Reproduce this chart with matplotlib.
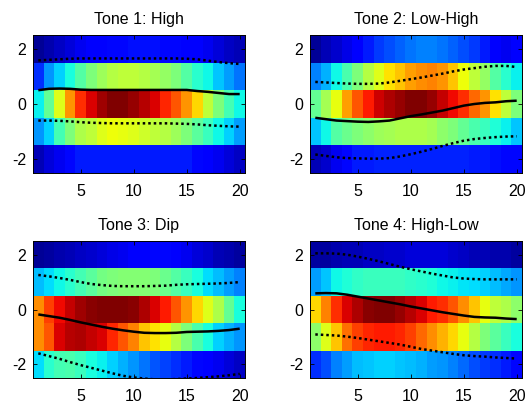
import numpy as np
import matplotlib
matplotlib.use("Agg")
import matplotlib.pyplot as plt

plt.rcParams['font.family'] = ['Liberation Sans', 'DejaVu Sans']
plt.rcParams['axes.unicode_minus'] = False

titles = ["Tone 1: High", "Tone 2: Low-High", "Tone 3: Dip", "Tone 4: High-Low"]
frames = list(range(1, 21))
bins = [-2, -1, 0, 1, 2]
xticks = [5, 10, 15, 20]
yticks = [-2, 0, 2]

# Heatmap densities (rows: y = 2, 1, 0, -1, -2; columns: frames 1..20)
tone1_density = [
    [0.02, 0.04, 0.06, 0.08, 0.10, 0.11, 0.12, 0.13, 0.13, 0.14, 0.14, 0.14, 0.13, 0.13, 0.12, 0.11, 0.10, 0.08, 0.06, 0.05],
    [0.17, 0.27, 0.33, 0.38, 0.45, 0.50, 0.54, 0.57, 0.58, 0.58, 0.57, 0.55, 0.53, 0.50, 0.45, 0.40, 0.37, 0.32, 0.28, 0.24],
    [0.36, 0.47, 0.62, 0.75, 0.86, 0.92, 0.97, 1.00, 1.00, 0.98, 0.95, 0.92, 0.87, 0.82, 0.75, 0.68, 0.58, 0.50, 0.43, 0.37],
    [0.27, 0.33, 0.43, 0.50, 0.56, 0.58, 0.62, 0.64, 0.63, 0.62, 0.60, 0.58, 0.57, 0.54, 0.50, 0.46, 0.42, 0.37, 0.33, 0.28],
    [0.05, 0.08, 0.10, 0.13, 0.15, 0.15, 0.15, 0.15, 0.15, 0.15, 0.15, 0.15, 0.15, 0.15, 0.15, 0.13, 0.12, 0.10, 0.08, 0.06],
]
tone2_density = [
    [0.02, 0.05, 0.07, 0.09, 0.12, 0.15, 0.18, 0.20, 0.22, 0.24, 0.25, 0.25, 0.24, 0.22, 0.20, 0.18, 0.15, 0.12, 0.10, 0.12],
    [0.25, 0.30, 0.37, 0.44, 0.50, 0.57, 0.62, 0.67, 0.70, 0.74, 0.76, 0.77, 0.75, 0.70, 0.64, 0.58, 0.53, 0.45, 0.40, 0.36],
    [0.47, 0.55, 0.63, 0.74, 0.82, 0.88, 0.93, 0.96, 0.98, 1.00, 1.00, 0.98, 0.94, 0.90, 0.86, 0.80, 0.75, 0.67, 0.58, 0.50],
    [0.32, 0.37, 0.45, 0.48, 0.50, 0.52, 0.54, 0.55, 0.56, 0.56, 0.56, 0.55, 0.52, 0.50, 0.47, 0.44, 0.42, 0.39, 0.36, 0.32],
    [0.05, 0.07, 0.10, 0.13, 0.15, 0.15, 0.16, 0.16, 0.16, 0.16, 0.16, 0.16, 0.16, 0.16, 0.16, 0.15, 0.15, 0.14, 0.13, 0.13],
]
tone3_density = [
    [0.02, 0.03, 0.04, 0.05, 0.06, 0.07, 0.08, 0.09, 0.10, 0.11, 0.12, 0.13, 0.13, 0.12, 0.10, 0.08, 0.07, 0.05, 0.04, 0.03],
    [0.31, 0.34, 0.37, 0.40, 0.43, 0.46, 0.49, 0.50, 0.51, 0.51, 0.51, 0.50, 0.48, 0.45, 0.42, 0.38, 0.34, 0.31, 0.28, 0.25],
    [0.76, 0.84, 0.90, 0.94, 0.97, 0.99, 1.00, 1.00, 1.00, 0.99, 0.96, 0.92, 0.88, 0.82, 0.75, 0.68, 0.62, 0.56, 0.47, 0.38],
    [0.76, 0.82, 0.92, 0.95, 0.96, 0.94, 0.92, 0.87, 0.82, 0.77, 0.70, 0.67, 0.63, 0.57, 0.50, 0.44, 0.38, 0.33, 0.30, 0.27],
    [0.34, 0.40, 0.43, 0.44, 0.42, 0.38, 0.36, 0.33, 0.30, 0.27, 0.24, 0.21, 0.19, 0.17, 0.15, 0.13, 0.12, 0.10, 0.08, 0.06],
]
tone4_density = [
    [0.03, 0.03, 0.04, 0.05, 0.05, 0.06, 0.06, 0.07, 0.07, 0.08, 0.08, 0.08, 0.08, 0.07, 0.06, 0.05, 0.05, 0.04, 0.04, 0.03],
    [0.28, 0.32, 0.37, 0.39, 0.41, 0.42, 0.42, 0.42, 0.42, 0.41, 0.40, 0.39, 0.37, 0.36, 0.35, 0.34, 0.33, 0.31, 0.29, 0.27],
    [0.68, 0.77, 0.86, 0.92, 0.96, 0.99, 1.00, 1.00, 0.98, 0.95, 0.92, 0.88, 0.86, 0.82, 0.76, 0.70, 0.63, 0.58, 0.56, 0.52],
    [0.52, 0.62, 0.70, 0.79, 0.84, 0.87, 0.88, 0.88, 0.87, 0.84, 0.80, 0.76, 0.72, 0.68, 0.63, 0.57, 0.50, 0.46, 0.42, 0.38],
    [0.17, 0.20, 0.25, 0.28, 0.31, 0.32, 0.33, 0.33, 0.32, 0.31, 0.30, 0.28, 0.27, 0.25, 0.23, 0.20, 0.18, 0.17, 0.15, 0.13],
]

# Mean contours and +/- std bounds
tone1_mean = [0.50, 0.55, 0.56, 0.55, 0.52, 0.51, 0.51, 0.51, 0.51, 0.51, 0.51, 0.51, 0.51, 0.51, 0.51, 0.47, 0.44, 0.40, 0.36, 0.36]
tone1_upper = [1.58, 1.60, 1.62, 1.64, 1.65, 1.65, 1.65, 1.65, 1.65, 1.65, 1.65, 1.65, 1.65, 1.65, 1.64, 1.62, 1.57, 1.52, 1.48, 1.45]
tone1_lower = [-0.60, -0.60, -0.61, -0.63, -0.66, -0.68, -0.69, -0.70, -0.70, -0.70, -0.70, -0.70, -0.70, -0.71, -0.72, -0.74, -0.77, -0.79, -0.81, -0.82]

tone2_mean = [-0.50, -0.55, -0.60, -0.62, -0.64, -0.65, -0.63, -0.60, -0.52, -0.44, -0.38, -0.31, -0.24, -0.15, -0.06, 0.00, 0.04, 0.06, 0.10, 0.12]
tone2_upper = [0.80, 0.78, 0.76, 0.74, 0.73, 0.73, 0.74, 0.78, 0.84, 0.90, 0.96, 1.03, 1.10, 1.18, 1.25, 1.30, 1.35, 1.38, 1.38, 1.34]
tone2_lower = [-1.83, -1.88, -1.93, -1.96, -1.97, -1.98, -1.98, -1.96, -1.90, -1.82, -1.73, -1.63, -1.52, -1.42, -1.33, -1.27, -1.23, -1.20, -1.18, -1.17]

tone3_mean = [-0.18, -0.24, -0.30, -0.38, -0.47, -0.55, -0.63, -0.70, -0.76, -0.81, -0.85, -0.86, -0.86, -0.85, -0.82, -0.81, -0.80, -0.78, -0.75, -0.70]
tone3_upper = [1.26, 1.21, 1.15, 1.08, 1.00, 0.93, 0.89, 0.86, 0.85, 0.85, 0.85, 0.86, 0.87, 0.90, 0.92, 0.93, 0.94, 0.95, 0.97, 1.00]
tone3_lower = [-1.60, -1.70, -1.80, -1.92, -2.03, -2.13, -2.23, -2.33, -2.42, -2.48, -2.52, -2.55, -2.55, -2.54, -2.52, -2.50, -2.47, -2.44, -2.40, -2.35]

tone4_mean = [0.59, 0.60, 0.59, 0.54, 0.47, 0.40, 0.33, 0.26, 0.19, 0.11, 0.04, -0.03, -0.10, -0.16, -0.22, -0.27, -0.29, -0.30, -0.33, -0.35]
tone4_upper = [2.05, 2.05, 2.04, 2.00, 1.93, 1.85, 1.76, 1.66, 1.56, 1.47, 1.39, 1.31, 1.24, 1.17, 1.13, 1.11, 1.10, 1.10, 1.10, 1.10]
tone4_lower = [-0.91, -0.93, -0.95, -0.99, -1.04, -1.10, -1.16, -1.22, -1.28, -1.36, -1.44, -1.50, -1.56, -1.62, -1.67, -1.70, -1.72, -1.75, -1.77, -1.79]

densities = [tone1_density, tone2_density, tone3_density, tone4_density]
means = [tone1_mean, tone2_mean, tone3_mean, tone4_mean]
uppers = [tone1_upper, tone2_upper, tone3_upper, tone4_upper]
lowers = [tone1_lower, tone2_lower, tone3_lower, tone4_lower]

W, H = 531, 403
fig = plt.figure(figsize=(W / 100, H / 100), dpi=100)

positions = [
    (33, 35, 212, 138),
    (310, 35, 212, 138),
    (33, 241, 212, 137),
    (310, 241, 212, 137),
]

x = np.array(frames, dtype=float)
xe = np.concatenate([x - 0.5, [x[-1] + 0.5]])
yb = np.array(bins, dtype=float)
ye = np.concatenate([yb - 0.5, [yb[-1] + 0.5]])

for i in range(4):
    px, py, pw, ph = positions[i]
    ax = fig.add_axes([px / W, 1 - (py + ph) / H, pw / W, ph / H])
    Z = np.array(densities[i])[::-1]  # bottom row first
    ax.pcolormesh(xe, ye, Z, cmap='jet', vmin=0, vmax=1, shading='flat')
    ax.plot(x, means[i], color='black', lw=1.8, solid_capstyle='butt')
    ax.plot(x, uppers[i], color='black', lw=1.8, linestyle=(0, (1, 1.2)))
    ax.plot(x, lowers[i], color='black', lw=1.8, linestyle=(0, (1, 1.2)))
    ax.set_xlim(xe[0], xe[-1])
    ax.set_ylim(ye[0], ye[-1])
    ax.set_xticks(xticks)
    ax.set_yticks(yticks)
    ax.tick_params(direction='in', top=True, right=True, length=3, width=0.6,
                   labelsize=11.5)
    ax.tick_params(axis='x', pad=8)
    ax.tick_params(axis='y', pad=5)
    for s in ax.spines.values():
        s.set_linewidth(0.7)
    ax.set_title(titles[i], fontsize=11.5, pad=8)

fig.savefig("out.png", dpi=100)
